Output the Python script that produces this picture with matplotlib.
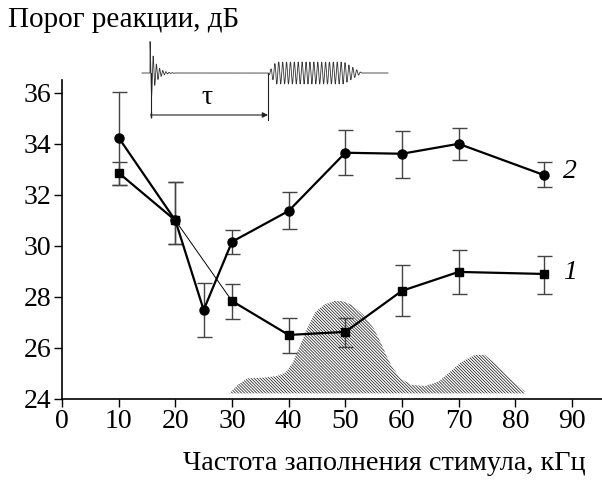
import numpy as np
import matplotlib
matplotlib.use("Agg")
import matplotlib.pyplot as plt

plt.rcParams['font.family'] = ['Liberation Serif', 'DejaVu Serif']
plt.rcParams['hatch.linewidth'] = 0.55
plt.rcParams['hatch.color'] = '#222222'

# series 2 (circles)
x2 = [10, 20, 25, 30, 40, 50, 60, 70, 85]
y2 = [34.24, 31.0, 27.49, 30.16, 31.37, 33.65, 33.61, 34.0, 32.78]
e2_lo = [1.84, 0.93, 1.05, 0.47, 0.70, 0.87, 0.94, 0.65, 0.47]
e2_hi = [1.80, 1.50, 1.06, 0.47, 0.75, 0.90, 0.90, 0.60, 0.51]

# series 1 (squares)
x1 = [10, 20, 30, 40, 50, 60, 70, 85]
y1 = [32.86, 31.0, 27.84, 26.51, 26.63, 28.24, 28.98, 28.9]
e1_lo = [0.46, 0.93, 0.70, 0.71, 0.59, 0.99, 0.86, 0.78]
e1_hi = [0.43, 1.50, 0.67, 0.67, 0.55, 1.01, 0.86, 0.70]

# hatched spectrum outline
sx = [29.53, 30.98, 32.74, 35.68, 38.01, 39.49, 40.65, 41.83, 43.29, 44.76, 46.22,
      47.98, 49.44, 51.19, 53.25, 55.01, 56.47, 57.07, 58.22, 59.70, 61.74, 64.10,
      66.43, 68.49, 70.53, 72.88, 74.64, 76.40, 78.73, 81.67]
sy = [24.22, 24.55, 24.81, 24.84, 24.90, 25.05, 25.40, 25.99, 26.77, 27.42, 27.69,
      27.84, 27.84, 27.69, 27.29, 26.77, 26.12, 25.79, 25.27, 24.81, 24.55, 24.51,
      24.68, 25.07, 25.46, 25.73, 25.73, 25.40, 24.87, 24.29]
base = 24.22

xticks = list(range(0, 91, 10))
yticks = list(range(24, 37, 2))

fig = plt.figure(figsize=(6.02, 4.82), dpi=100)
ax = fig.add_axes([62 / 602, 1 - 399 / 482, 1 - 62 / 602, (399 - 80) / 482])

ax.fill_between(sx, base, sy, facecolor='white', edgecolor='#222222',
                hatch='\\' * 11, linewidth=0)

ecol = '#444444'
ax.errorbar(x2, y2, yerr=[e2_lo, e2_hi], fmt='none', ecolor=ecol,
            elinewidth=1.0, capsize=5.4, capthick=1.0, zorder=3)
ax.errorbar(x1, y1, yerr=[e1_lo, e1_hi], fmt='none', ecolor=ecol,
            elinewidth=1.0, capsize=5.4, capthick=1.0, zorder=3)

ax.plot(x2, y2, color='black', lw=1.6, marker='o', ms=6.5, zorder=4)
ax.plot(x1[1:3], y1[1:3], color='black', lw=0.7, zorder=4)
ax.plot(x1[:2], y1[:2], color='black', lw=1.6, marker='s', ms=6, zorder=4)
ax.plot(x1[2:], y1[2:], color='black', lw=1.6, marker='s', ms=6, zorder=4)

ax.text(88.5, 32.9, '2', fontsize=20, style='italic', va='center', ha='left')
ax.text(88.5, 28.95, '1', fontsize=20, style='italic', va='center', ha='left')

ax.set_xlim(0, 95.3)
ax.set_ylim(24, 36.5)
ax.set_xticks(xticks)
ax.set_yticks(yticks)
ax.tick_params(labelsize=20, length=5.5, width=1.0, direction='out', pad=2)
for s in ['top', 'right']:
    ax.spines[s].set_visible(False)
for s in ['left', 'bottom']:
    ax.spines[s].set_linewidth(1.2)

fig.text(8 / 602, 1 - 20 / 482, 'Порог реакции, дБ', fontsize=21, ha='left', va='center')
fig.text(586 / 602, 1 - 463 / 482, 'Частота заполнения стимула, кГц', fontsize=20.3,
         ha='right', va='center')

# inset: stimulus schematic, pixel coordinates
ins = fig.add_axes([135 / 602, 1 - 125 / 482, (395 - 135) / 602, (125 - 35) / 482])
ins.set_xlim(135, 395)
ins.set_ylim(125, 35)
ins.axis('off')
t = np.linspace(142, 388, 4000)
w = np.zeros_like(t)
m = (t >= 150) & (t < 175)
w[m] = -32 * np.exp(-(t[m] - 150) / 5.0) * np.cos(2 * np.pi * (t[m] - 150) / 3.2)
m = (t >= 268) & (t < 362)
env = np.clip((t[m] - 268) / 8, 0, 1) * np.clip((362 - t[m]) / 18, 0, 1)
w[m] = 11 * env * np.sin(2 * np.pi * (t[m] - 268) / 3.9)
ins.plot(t, 73 + w, color='#333333', lw=0.6)
ins.plot([150.5, 150.5], [73, 116], color='#222222', lw=0.8)
ins.plot([268, 268], [73, 120], color='#222222', lw=0.8)
ins.annotate('', xy=(268, 115), xytext=(150.5, 115),
             arrowprops=dict(arrowstyle='-|>', color='#222222', lw=0.8,
                             mutation_scale=8, shrinkA=0, shrinkB=0))
ins.plot([150.5], [115], marker='|', color='#222222', ms=5)
ins.text(207, 97, 'τ', fontsize=20, ha='center', va='center')

fig.savefig('out.png', dpi=100)
